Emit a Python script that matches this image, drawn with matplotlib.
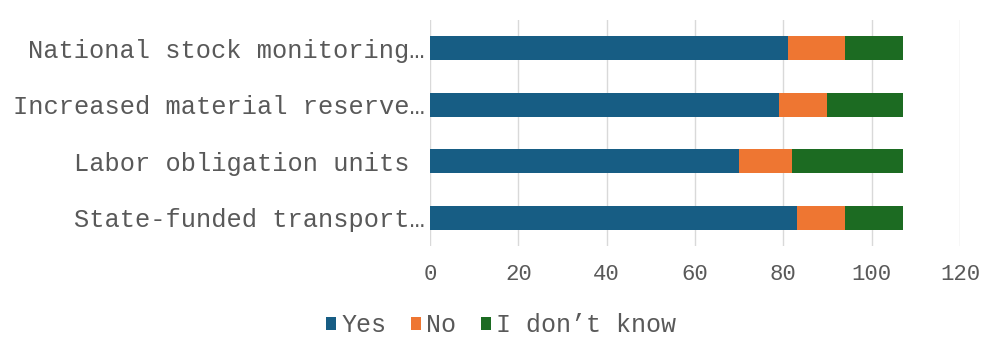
import matplotlib.pyplot as plt
import numpy as np

# Survey answers per measure (percent)
categories = ["National stock monitoring…", "Increased material reserve…",
              "Labor obligation units ", "State-funded transport…"]
yes_vals = [81, 79, 70, 83]
no_vals = [13, 11, 12, 11]
idk_vals = [13, 17, 25, 13]
series_names = ["Yes", "No", "I don\u2019t know"]
x_ticks = [0, 20, 40, 60, 80, 100, 120]

COLORS = ["#175d84", "#ee7632", "#1c6b22"]
TEXT_GRAY = "#595959"
FONT = ["Liberation Mono", "DejaVu Sans Mono"]

plt.rcParams['font.family'] = FONT

fig = plt.figure(figsize=(9.83, 3.38), dpi=100)
ax = fig.add_axes([0.4374, 0.2722, 0.5392, 0.6686])

y = np.arange(len(categories))
left = np.zeros(len(categories))
for vals, col, name in zip([yes_vals, no_vals, idk_vals], COLORS, series_names):
    ax.barh(y, vals, left=left, height=0.42, color=col, label=name, zorder=3)
    left += np.array(vals)

ax.set_ylim(len(categories) - 0.5, -0.5)
ax.set_xlim(0, 120)
ax.set_xticks(x_ticks)
ax.set_yticks(y)
ax.set_yticklabels(categories, fontsize=18.3, color=TEXT_GRAY)
ax.tick_params(axis='x', labelsize=16, colors=TEXT_GRAY, length=0, pad=13)
ax.tick_params(axis='y', length=0, pad=4)

ax.grid(axis='x', color="#d9d9d9", linewidth=1, zorder=0)
for s in ax.spines.values():
    s.set_visible(False)

leg = fig.legend(loc='lower center', bbox_to_anchor=(0.51, -0.065), ncol=3, frameon=False,
                 fontsize=18, handlelength=0.4, handleheight=0.4, handletextpad=0.2,
                 columnspacing=1.0)
for t in leg.get_texts():
    t.set_color(TEXT_GRAY)

plt.savefig("out.png", dpi=100, facecolor='white')
